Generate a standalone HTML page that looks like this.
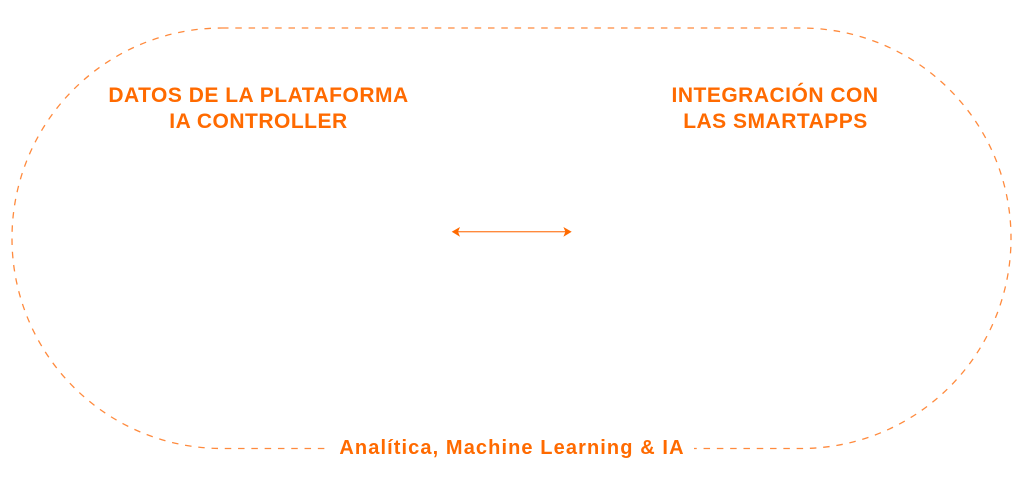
<!DOCTYPE html>
<html>
<head>
<meta charset="utf-8">
<style>
  html, body { margin: 0; padding: 0; background: #ffffff; }
  body { width: 1024px; height: 498px; overflow: hidden; }
  svg { display: block; }
  text { font-family: "Liberation Sans", Arial, sans-serif; font-weight: bold; fill: #ff6a00; }
</style>
</head>
<body>
<svg width="1024" height="498" viewBox="0 0 1024 498" xmlns="http://www.w3.org/2000/svg">
  <rect x="12" y="28" width="999" height="420.5" rx="210" ry="210" fill="none" stroke="#ff8a3d" stroke-width="1.3" stroke-dasharray="6.5 6.8"/>
  <!-- white gap behind bottom label -->
  <rect x="328" y="438" width="366" height="22" fill="#ffffff"/>

  <text x="258.5" y="102" font-size="21" letter-spacing="0.5" text-anchor="middle">DATOS DE LA PLATAFORMA</text>
  <text x="258.5" y="128" font-size="21" letter-spacing="0.5" text-anchor="middle">IA CONTROLLER</text>

  <text x="775" y="102" font-size="21" letter-spacing="0.5" text-anchor="middle">INTEGRACIÓN CON</text>
  <text x="775.5" y="128" font-size="21" letter-spacing="0.5" text-anchor="middle">LAS SMARTAPPS</text>

  <text x="512" y="454" font-size="20" letter-spacing="1.1" text-anchor="middle">Analítica, Machine Learning &amp; IA</text>

  <!-- double arrow -->
  <line x1="457" y1="231.7" x2="566" y2="231.7" stroke="#ff8a3d" stroke-width="1.4"/>
  <path d="M451.7 231.7 L460 227 L458 231.7 L460 236.8 Z" fill="#ff6a00"/>
  <path d="M571.7 231.7 L563.4 227 L565.4 231.7 L563.4 236.8 Z" fill="#ff6a00"/>
</svg>
</body>
</html>
